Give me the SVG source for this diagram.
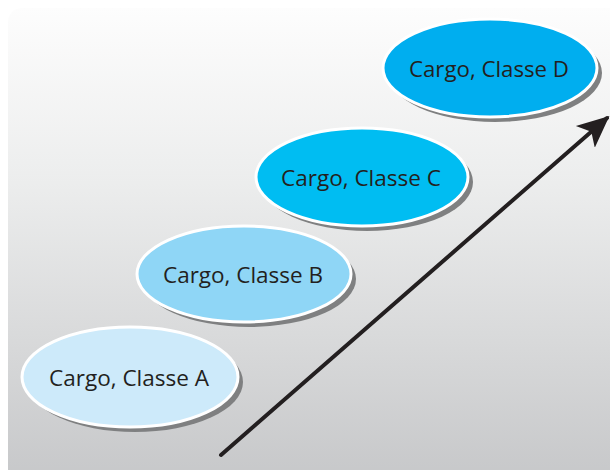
<svg xmlns="http://www.w3.org/2000/svg" width="610" height="470" viewBox="0 0 610 470">
<defs>
<linearGradient id="bg" x1="0" y1="0" x2="0" y2="1">
<stop offset="0" stop-color="#fdfdfd"/>
<stop offset="0.35" stop-color="#eceded"/>
<stop offset="1" stop-color="#c3c4c6"/>
</linearGradient>
<marker id="ah" viewBox="0 0 10 10" refX="9" refY="5" markerWidth="8" markerHeight="8" orient="auto" markerUnits="strokeWidth">
<path d="M0,0.5 L10,5 L0,9.5 L2.5,5 Z" fill="#231f20"/>
</marker>
</defs>
<style>
.sh{fill:#7f8081}
.el{stroke:#ffffff;stroke-width:3}
.t{font-family:"Open Sans","Noto Sans",sans-serif;font-size:22px;fill:#231f20;text-anchor:middle;dominant-baseline:central}
</style>
<rect x="0" y="0" width="610" height="470" fill="#ffffff"/>
<rect x="8" y="8" width="640" height="500" rx="14" fill="url(#bg)"/>
<g id="connectors">
<line x1="221" y1="455" x2="607" y2="118" stroke="#231f20" stroke-width="4" stroke-linecap="round" marker-end="url(#ah)"/>
</g>
<g id="nodeA">
<ellipse class="sh" cx="135" cy="382" rx="108" ry="50"/>
<ellipse class="el" cx="130" cy="377" rx="108" ry="50" fill="#cdeafa"/>
<text class="t" x="129" y="377" textLength="160" lengthAdjust="spacingAndGlyphs">Cargo, Classe A</text>
</g>
<g id="nodeB">
<ellipse class="sh" cx="249" cy="279" rx="107" ry="48"/>
<ellipse class="el" cx="244" cy="274" rx="107" ry="48" fill="#8fd6f6"/>
<text class="t" x="243" y="274" textLength="160" lengthAdjust="spacingAndGlyphs">Cargo, Classe B</text>
</g>
<g id="nodeC">
<ellipse class="sh" cx="367" cy="182" rx="106" ry="49"/>
<ellipse class="el" cx="362" cy="177" rx="106" ry="49" fill="#00bdf2"/>
<text class="t" x="361" y="177" textLength="160" lengthAdjust="spacingAndGlyphs">Cargo, Classe C</text>
</g>
<g id="nodeD">
<ellipse class="sh" cx="495" cy="73" rx="107" ry="49"/>
<ellipse class="el" cx="490" cy="68" rx="107" ry="49" fill="#00aeef"/>
<text class="t" x="489" y="68" textLength="160" lengthAdjust="spacingAndGlyphs">Cargo, Classe D</text>
</g>
</svg>
